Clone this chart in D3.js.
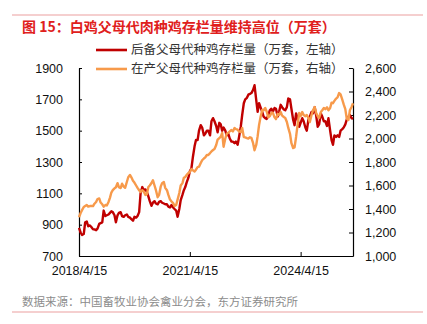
<!DOCTYPE html>
<html>
<head>
<meta charset="utf-8">
<script src="https://cdn.jsdelivr.net/npm/d3@7"></script>
<style>
  html, body { margin: 0; padding: 0; background: #fff; }
  svg { display: block; }
</style>
</head>
<body>
<svg id="chart" width="427" height="324"></svg>
<script>
// Semi-monthly observations, 15 April 2018 – 15 September 2025
const obsDates = [
  "2018-04-15","2018-05-01","2018-05-15","2018-06-01","2018-06-15","2018-07-01","2018-07-15","2018-08-01","2018-08-15","2018-09-01","2018-09-15","2018-10-01","2018-10-15","2018-11-01","2018-11-15","2018-12-01","2018-12-15",
  "2019-01-01","2019-01-15","2019-02-01","2019-02-15","2019-03-01","2019-03-15","2019-04-01","2019-04-15","2019-05-01","2019-05-15","2019-06-01","2019-06-15","2019-07-01","2019-07-15","2019-08-01","2019-08-15","2019-09-01","2019-09-15","2019-10-01","2019-10-15","2019-11-01","2019-11-15","2019-12-01","2019-12-15",
  "2020-01-01","2020-01-15","2020-02-01","2020-02-15","2020-03-01","2020-03-15","2020-04-01","2020-04-15","2020-05-01","2020-05-15","2020-06-01","2020-06-15","2020-07-01","2020-07-15","2020-08-01","2020-08-15","2020-09-01","2020-09-15","2020-10-01","2020-10-15","2020-11-01","2020-11-15","2020-12-01","2020-12-15",
  "2021-01-01","2021-01-15","2021-02-01","2021-02-15","2021-03-01","2021-03-15","2021-04-01","2021-04-15","2021-05-01","2021-05-15","2021-06-01","2021-06-15","2021-07-01","2021-07-15","2021-08-01","2021-08-15","2021-09-01","2021-09-15","2021-10-01","2021-10-15","2021-11-01","2021-11-15","2021-12-01","2021-12-15",
  "2022-01-01","2022-01-15","2022-02-01","2022-02-15","2022-03-01","2022-03-15","2022-04-01","2022-04-15","2022-05-01","2022-05-15","2022-06-01","2022-06-15","2022-07-01","2022-07-15","2022-08-01","2022-08-15","2022-09-01","2022-09-15","2022-10-01","2022-10-15","2022-11-01","2022-11-15","2022-12-01","2022-12-15",
  "2023-01-01","2023-01-15","2023-02-01","2023-02-15","2023-03-01","2023-03-15","2023-04-01","2023-04-15","2023-05-01","2023-05-15","2023-06-01","2023-06-15","2023-07-01","2023-07-15","2023-08-01","2023-08-15","2023-09-01","2023-09-15","2023-10-01","2023-10-15","2023-11-01","2023-11-15","2023-12-01","2023-12-15",
  "2024-01-01","2024-01-15","2024-02-01","2024-02-15","2024-03-01","2024-03-15","2024-04-01","2024-04-15","2024-05-01","2024-05-15","2024-06-01","2024-06-15","2024-07-01","2024-07-15","2024-08-01","2024-08-15","2024-09-01","2024-09-15","2024-10-01","2024-10-15","2024-11-01","2024-11-15","2024-12-01","2024-12-15",
  "2025-01-01","2025-01-15","2025-02-01","2025-02-15","2025-03-01","2025-03-15","2025-04-01","2025-04-15","2025-05-01","2025-05-15","2025-06-01","2025-06-15","2025-07-01","2025-07-15","2025-08-01","2025-08-15","2025-09-01","2025-09-15"
];

// 后备父母代种鸡存栏量（万套，左轴）
const reserveStock = [
  880, 850, 834, 840, 915, 920, 890, 895, 885, 870, 870, 865, 875, 905, 910, 915, 990,
  955, 960, 965, 975, 985, 980, 960, 915, 960, 975, 980, 955, 950, 960, 965, 950, 945, 935, 925, 950, 945, 955, 980, 1100,
  1140, 1120, 1125, 1110, 1080, 1050, 1020, 1040, 1050, 1035, 1030, 1045, 1050, 1040, 1035, 1030, 1030, 1015, 1010, 1025, 1010, 1000, 990, 950,
  1000, 1057, 1090, 1120, 1140, 1170, 1200, 1240, 1260, 1330, 1400, 1440, 1440, 1500, 1535, 1520, 1470, 1480, 1500, 1500, 1470, 1560, 1580, 1560,
  1530, 1490, 1550, 1540, 1500, 1520, 1500, 1470, 1480, 1450, 1430, 1430, 1420, 1430, 1410, 1460, 1525, 1600, 1675, 1700, 1710, 1730, 1735, 1740,
  1760, 1790, 1695, 1620, 1675, 1650, 1620, 1590, 1580, 1575, 1600, 1630, 1640, 1620, 1645, 1640, 1590, 1620, 1665, 1650, 1635, 1630, 1650, 1705,
  1700, 1640, 1570, 1535, 1610, 1580, 1525, 1550, 1580, 1560, 1520, 1500, 1570, 1590, 1620, 1610, 1650, 1600, 1525, 1540, 1610, 1590, 1560, 1560,
  1530, 1580, 1500, 1440, 1410, 1470, 1460, 1470, 1460, 1500, 1510, 1520, 1540, 1570, 1590, 1600, 1580, 1575
];

// 在产父母代种鸡存栏量（万套，右轴）
const producingStock = [
  1330, 1366, 1390, 1417, 1425, 1434, 1420, 1425, 1425, 1425, 1445, 1460, 1485, 1490, 1455, 1440, 1420,
  1434, 1430, 1460, 1495, 1540, 1560, 1575, 1585, 1620, 1585, 1578, 1615, 1590, 1580, 1630, 1670, 1690, 1670, 1640, 1625, 1600, 1580, 1560, 1545,
  1560, 1550, 1519, 1525, 1587, 1600, 1621, 1645, 1600, 1560, 1500, 1520, 1590, 1620, 1630, 1580, 1560, 1520, 1480, 1465, 1451, 1425, 1434, 1480,
  1536, 1600, 1620, 1665, 1672, 1690, 1706, 1715, 1740, 1730, 1720, 1735, 1757, 1760, 1791, 1815, 1830, 1840, 1860, 1860, 1876, 1890, 1902, 1910,
  1945, 1990, 2004, 2015, 2047, 1930, 2000, 2040, 2050, 2060, 2072, 2060, 2089, 2080, 2075, 2060, 2055, 2090, 2013, 2010, 2004, 2000, 2010, 2005,
  1960, 1900, 1945, 2020, 2115, 2180, 2242, 2240, 2260, 2230, 2180, 2190, 2217, 2220, 2180, 2165, 2210, 2200, 2225, 2195, 2183, 2175, 2140, 2090,
  2040, 1960, 1919, 1925, 2013, 2110, 2217, 2190, 2225, 2200, 2190, 2200, 2175, 2140, 2200, 2240, 2268, 2220, 2190, 2175, 2225, 2240, 2260, 2250,
  2265, 2240, 2260, 2305, 2300, 2320, 2340, 2350, 2387, 2375, 2330, 2290, 2250, 2170, 2157, 2240, 2268, 2300
];

const leftTicks = [700, 900, 1100, 1300, 1500, 1700, 1900];
const rightTicks = [1000, 1200, 1400, 1600, 1800, 2000, 2200, 2400, 2600];
const xTickDates = ["2018-04-15", "2021-04-15", "2024-04-15"];

const titleText = "图 15：白鸡父母代肉种鸡存栏量维持高位（万套）";
const legendLabels = ["后备父母代种鸡存栏量（万套，左轴）", "在产父母代种鸡存栏量（万套，右轴）"];
const sourceText = "数据来源：中国畜牧业协会禽业分会，东方证券研究所";

const COLORS = { reserve: "#C00000", producing: "#F79A4B", title: "#E0201C", rule: "#EBA0A0" };
const latinFont = "'Liberation Sans', Arial, sans-serif";
const cjkFont = "'Noto Sans CJK SC', 'Noto Sans', sans-serif";

const parseDay = d3.timeParse("%Y-%m-%d");
const dates = obsDates.map(parseDay);
const fmtTick = d3.timeFormat("%Y/%-m/%-d");

const plot = { left: 79, right: 353, top: 68, bottom: 256 };

const svg = d3.select("#chart");

const x = d3.scaleTime()
  .domain([dates[0], dates[dates.length - 1]])
  .range([plot.left, plot.right]);
const yL = d3.scaleLinear().domain([700, 1900]).range([plot.bottom, plot.top]);
const yR = d3.scaleLinear().domain([1000, 2600]).range([plot.bottom, plot.top]);

// Decorative rules above the title and below the source note
svg.append("line").attr("x1", 12).attr("x2", 423).attr("y1", 15).attr("y2", 15)
  .attr("stroke", COLORS.rule).attr("stroke-width", 1.2);
svg.append("line").attr("x1", 12).attr("x2", 423).attr("y1", 312).attr("y2", 312)
  .attr("stroke", COLORS.rule).attr("stroke-width", 1.2);

svg.append("text")
  .attr("x", 22).attr("y", 32)
  .attr("font-family", cjkFont).attr("font-size", 14).attr("font-weight", "bold")
  .attr("fill", COLORS.title)
  .text(titleText);

// Axes
const axisLeft = d3.axisLeft(yL).tickValues(leftTicks).tickSize(-3).tickPadding(16).tickFormat(d3.format("d"));
const axisRight = d3.axisRight(yR).tickValues(rightTicks).tickSize(-4).tickPadding(12).tickFormat(d3.format(","));
const axisBottom = d3.axisBottom(x).tickValues(xTickDates.map(parseDay)).tickSize(-4).tickPadding(10).tickFormat(fmtTick);

function styleAxis(g) {
  g.selectAll("path.domain").attr("stroke", "#000").attr("stroke-width", 1.2);
  g.selectAll(".tick line").attr("stroke", "#000").attr("stroke-width", 1);
  g.selectAll("text").attr("font-family", latinFont).attr("font-size", 12.5).attr("fill", "#111");
}

svg.append("g").attr("transform", `translate(${plot.left},0)`)
  .call(axisLeft.tickSizeOuter(0)).call(styleAxis);
svg.append("g").attr("transform", `translate(${plot.right},0)`)
  .call(axisRight.tickSizeOuter(0)).call(styleAxis);
svg.append("g").attr("transform", `translate(0,${plot.bottom})`)
  .call(axisBottom.tickSizeOuter(0)).call(styleAxis);

// Series lines
const lineL = d3.line().x((d, i) => x(dates[i])).y(d => yL(d));
const lineR = d3.line().x((d, i) => x(dates[i])).y(d => yR(d));

svg.append("path").datum(reserveStock)
  .attr("fill", "none").attr("stroke", COLORS.reserve).attr("stroke-width", 2.4)
  .attr("stroke-linejoin", "round").attr("d", lineL);
svg.append("path").datum(producingStock)
  .attr("fill", "none").attr("stroke", COLORS.producing).attr("stroke-width", 2.4)
  .attr("stroke-linejoin", "round").attr("d", lineR);

// Legend
const legend = svg.append("g");
[[COLORS.reserve, 50], [COLORS.producing, 69]].forEach(([c, yy], i) => {
  legend.append("line").attr("x1", 96).attr("x2", 127).attr("y1", yy).attr("y2", yy)
    .attr("stroke", c).attr("stroke-width", 2.6);
  legend.append("text").attr("x", 131).attr("y", yy).attr("dy", "0.35em")
    .attr("font-family", cjkFont).attr("font-size", 12.5).attr("fill", "#333")
    .text(legendLabels[i]);
});

svg.append("text")
  .attr("x", 22).attr("y", 306)
  .attr("font-family", cjkFont).attr("font-size", 11.5).attr("fill", "#8c8c8c")
  .text(sourceText);
</script>
</body>
</html>
